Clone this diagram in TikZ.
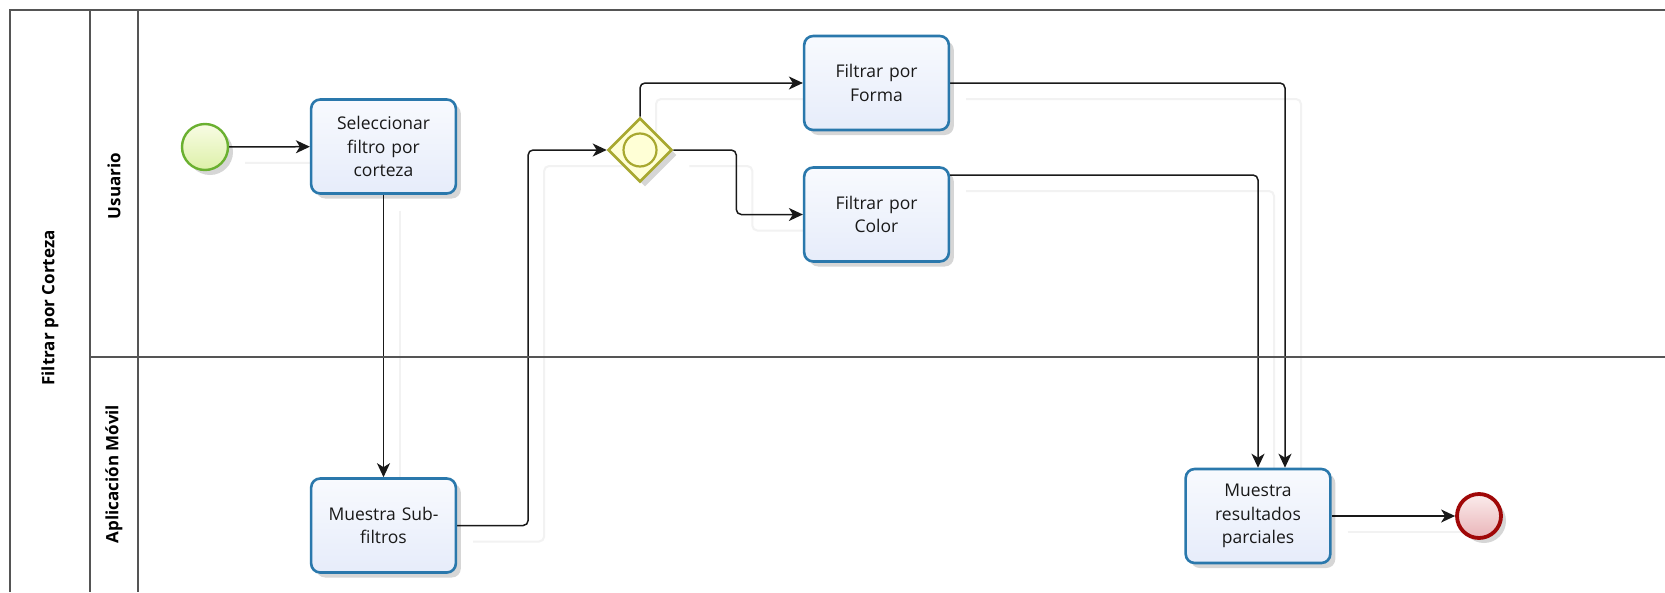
\documentclass[tikz,border=0pt]{standalone}
\usepackage{fontspec}
\setmainfont{Open Sans}
\usetikzlibrary{arrows.meta,shapes.geometric,shadows}
\definecolor{taskblue}{HTML}{2A78AC}
\definecolor{taskA}{HTML}{F8FAFE}
\definecolor{taskB}{HTML}{E6ECFA}
\definecolor{startgreen}{HTML}{6AB030}
\definecolor{startA}{HTML}{F8FCE4}
\definecolor{startB}{HTML}{DDF0A8}
\definecolor{gwolive}{HTML}{A8A830}
\definecolor{gwfill}{HTML}{FFFFD6}
\definecolor{endred}{HTML}{A00808}
\definecolor{endA}{HTML}{FBECEC}
\definecolor{endB}{HTML}{E9B4B8}
\definecolor{poolgray}{HTML}{555555}
\pgfdeclarelayer{background}
\pgfsetlayers{background,main}
\tikzset{
  shad/.style={drop shadow={shadow xshift=5pt, shadow yshift=-5pt, opacity=0.16, fill=black}},
  task/.style={rectangle, rounded corners=9pt, draw=taskblue, line width=2.6pt,
    minimum width=144pt, minimum height=94pt, top color=taskA, bottom color=taskB,
    align=center, text width=138pt, text=black!90,
    font=\fontsize{17.5}{23.5}\selectfont, shad},
  startev/.style={circle, draw=startgreen, line width=2.4pt, minimum size=46pt, inner sep=0pt,
    top color=startA, bottom color=startB, shad},
  endev/.style={circle, draw=endred, line width=3.8pt, minimum size=44pt, inner sep=0pt,
    top color=endA, bottom color=endB, shad},
  gateway/.style={diamond, aspect=1, draw=gwolive, line width=2.6pt, minimum width=64pt,
    minimum height=64pt, inner sep=0pt, fill=gwfill, shad},
  gwinner/.style={circle, draw=gwolive, line width=2.2pt, minimum size=33pt, inner sep=0pt, fill=gwfill},
  conn/.style={draw=black!90, line width=1.5pt, rounded corners=5pt,
    -{Stealth[length=14pt,width=13pt,inset=4pt]},
    preaction={draw=black!5, line width=2pt, -, transform canvas={xshift=16pt,yshift=-16pt}}},
  lanelabel/.style={rotate=90, font=\bfseries\fontsize{17}{20}\selectfont, text=black},
  poolline/.style={draw=poolgray, line width=1.5pt},
}
\begin{document}
\begin{tikzpicture}[x=1pt,y=-1pt]
\useasboundingbox (0,0) rectangle (1665,592);
\begin{pgfonlayer}{background}
\fill[white] (0,0) rectangle (1665,592);
\end{pgfonlayer}
% pool and lanes
\draw[poolline] (10,592) -- (10,10) -- (1665,10);
\draw[poolline] (90,10) -- (90,592);
\draw[poolline] (138,10) -- (138,592);
\draw[poolline] (90,357) -- (1665,357);
\node[lanelabel] (pool) at (50,308) {Filtrar por Corteza};
\node[lanelabel] (lane1) at (114,186) {Usuario};
\node[lanelabel] (lane2) at (114,474) {Aplicación Móvil};
% elements
\node[startev] (start) at (205,147) {};
\node[task] (t1) at (383.5,146.5) {Seleccionar\\filtro por\\corteza};
\node[task] (t2) at (383.5,525.5) {Muestra Sub-\\filtros};
\node[gateway] (gw) at (640,150) {};
\node[gwinner] (gwin) at (640,150) {};
\node[task] (forma) at (876.5,83) {Filtrar por\\Forma};
\node[task] (color) at (876.5,214.5) {Filtrar por\\Color};
\node[task] (res) at (1258,516) {Muestra\\resultados\\parciales};
\node[endev] (end) at (1479,516) {};
% connectors
\begin{pgfonlayer}{background}
\draw[conn] (start) -- (t1);
\draw[conn] (t1) -- (t2);
\draw[conn] (t2.east) -- ++(71,0) |- (gw.west);
\draw[conn] (gw.north) |- (forma.west);
\draw[conn] (gw.east) -- ++(63,0) |- (color.west);
\draw[conn] (forma.east) -| ([xshift=27pt]res.north);
\draw[conn] ([yshift=39.5pt]color.east) -| (res.north);
\draw[conn] (res) -- (end);
\end{pgfonlayer}
\end{tikzpicture}
\end{document}
